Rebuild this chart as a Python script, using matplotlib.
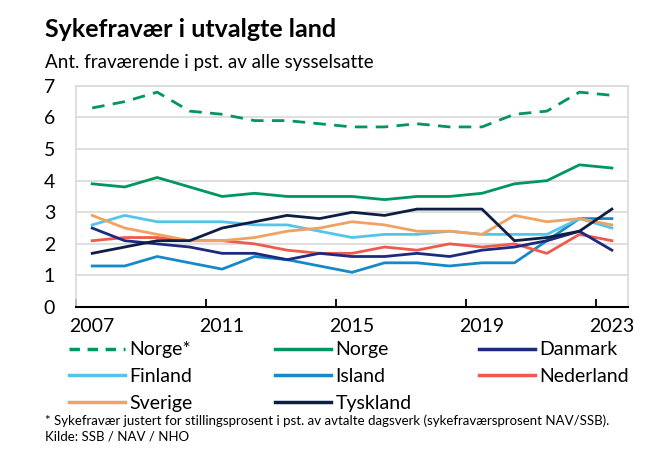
import numpy as np
import matplotlib.pyplot as plt
from matplotlib.lines import Line2D

plt.rcParams['font.family'] = ['Lato', 'DejaVu Sans']

years = list(range(2007, 2024))
norge_adj = [6.3, 6.5, 6.8, 6.2, 6.1, 5.9, 5.9, 5.8, 5.7, 5.7, 5.8, 5.7, 5.7, 6.1, 6.2, 6.8, 6.7]
norge = [3.9, 3.8, 4.1, 3.8, 3.5, 3.6, 3.5, 3.5, 3.5, 3.4, 3.5, 3.5, 3.6, 3.9, 4.0, 4.5, 4.4]
danmark = [2.5, 2.1, 2.0, 1.9, 1.7, 1.7, 1.5, 1.7, 1.6, 1.6, 1.7, 1.6, 1.8, 1.9, 2.1, 2.4, 1.8]
finland = [2.6, 2.9, 2.7, 2.7, 2.7, 2.6, 2.6, 2.4, 2.2, 2.3, 2.3, 2.4, 2.3, 2.3, 2.3, 2.8, 2.5]
island = [1.3, 1.3, 1.6, 1.4, 1.2, 1.6, 1.5, 1.3, 1.1, 1.4, 1.4, 1.3, 1.4, 1.4, 2.1, 2.8, 2.8]
nederland = [2.1, 2.2, 2.2, 2.1, 2.1, 2.0, 1.8, 1.7, 1.7, 1.9, 1.8, 2.0, 1.9, 2.0, 1.7, 2.3, 2.1]
sverige = [2.9, 2.5, 2.3, 2.1, 2.1, 2.2, 2.4, 2.5, 2.7, 2.6, 2.4, 2.4, 2.3, 2.9, 2.7, 2.8, 2.6]
tyskland = [1.7, 1.9, 2.1, 2.1, 2.5, 2.7, 2.9, 2.8, 3.0, 2.9, 3.1, 3.1, 3.1, 2.1, 2.2, 2.4, 3.1]

tick_years = [2007, 2011, 2015, 2019, 2023]

c_green = '#00965e'
c_danmark = '#1c2a80'
c_finland = '#55c4ea'
c_island = '#1689c9'
c_nederland = '#ef5a4c'
c_sverige = '#f1a262'
c_tyskland = '#0d1e44'

lw = 2.0
fig = plt.figure(figsize=(6.55, 4.59), dpi=100)
ax = fig.add_axes([0.116, 0.331, 0.843, 0.482])

# draw order: bottom lines first
ax.plot(years, island, c=c_island, lw=lw)
ax.plot(years, finland, c=c_finland, lw=lw)
ax.plot(years, nederland, c=c_nederland, lw=lw)
ax.plot(years, sverige, c=c_sverige, lw=lw)
ax.plot(years, danmark, c=c_danmark, lw=lw)
ax.plot(years, tyskland, c=c_tyskland, lw=lw)
ax.plot(years, norge, c=c_green, lw=lw)
ax.plot(years, norge_adj, c=c_green, lw=lw, dashes=(4.5, 3))

ax.set_xlim(2006.5, 2023.5)
ax.set_ylim(0, 7)
ax.set_yticks(range(0, 8))
ax.grid(axis='y', color='#d9d9d9', lw=1.2)
ax.set_axisbelow(True)

ax.set_xticks([y - 0.5 for y in tick_years])
ax.set_xticklabels([])
ax.set_xticks(tick_years, minor=True)
ax.set_xticklabels([str(y) for y in tick_years], minor=True)
ax.tick_params(axis='x', which='major', direction='in', length=6, width=1.3, color='black')
ax.tick_params(axis='x', which='minor', length=0, pad=8, labelsize=14)
ax.tick_params(axis='y', length=0, pad=15, labelsize=14)

for s in ['left', 'right', 'top']:
    ax.spines[s].set_color('#d9d9d9')
    ax.spines[s].set_linewidth(1.2)
ax.spines['bottom'].set_color('black')
ax.spines['bottom'].set_linewidth(1.5)

fig.text(0.069, 0.92, 'Sykefravær i utvalgte land', fontsize=18, fontweight='bold')
fig.text(0.069, 0.852, 'Ant. fraværende i pst. av alle sysselsatte', fontsize=13.5)

columns = [
    [('Norge*', c_green, True), ('Finland', c_finland, False), ('Sverige', c_sverige, False)],
    [('Norge', c_green, False), ('Island', c_island, False), ('Tyskland', c_tyskland, False)],
    [('Danmark', c_danmark, False), ('Nederland', c_nederland, False)],
]
col_x = [0.105, 0.42, 0.731]
for x0, col in zip(col_x, columns):
    handles = []
    for name, c, dashed in col:
        if dashed:
            handles.append(Line2D([], [], c=c, lw=lw + 0.5, dashes=(3, 2.2)))
        else:
            handles.append(Line2D([], [], c=c, lw=lw + 0.5))
    fig.legend(handles, [h[0] for h in col], loc='upper left', bbox_to_anchor=(x0, 0.256),
               frameon=False, fontsize=14, handlelength=2.9, handletextpad=0.2,
               labelspacing=0.49, borderpad=0, borderaxespad=0)

fig.text(0.069, 0.075, '* Sykefravær justert for stillingsprosent i pst. av avtalte dagsverk '
         '(sykefraværsprosent NAV/SSB).', fontsize=9.5)
fig.text(0.069, 0.04, 'Kilde: SSB / NAV / NHO', fontsize=9.5)

fig.savefig('out.png', dpi=100)
